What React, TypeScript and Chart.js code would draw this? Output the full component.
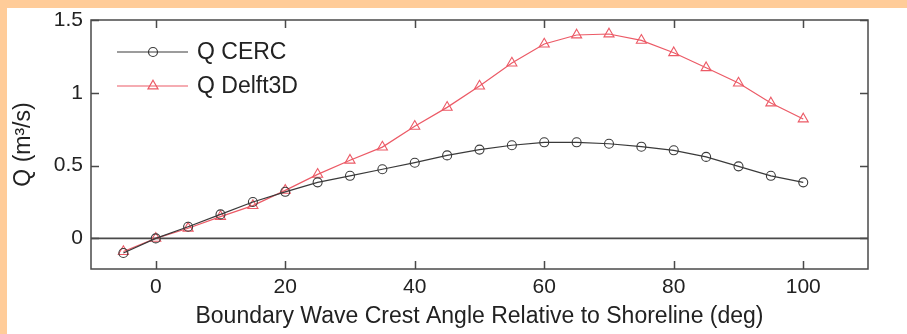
import { useEffect, useRef } from 'react';
import { Chart, registerables } from 'chart.js';

Chart.register(...registerables);

const angles = [-5, 0, 5, 10, 15, 20, 25, 30, 35, 40, 45, 50, 55, 60, 65, 70, 75, 80, 85, 90, 95, 100];
const qCerc = [-0.1, 0, 0.08, 0.165, 0.25, 0.32, 0.385, 0.43, 0.475, 0.52, 0.57, 0.61, 0.64, 0.66, 0.66, 0.65, 0.63, 0.605, 0.56, 0.495, 0.43, 0.385];
const qDelft = [-0.09, 0, 0.07, 0.15, 0.225, 0.33, 0.44, 0.537, 0.627, 0.77, 0.9, 1.046, 1.204, 1.335, 1.397, 1.404, 1.36, 1.275, 1.172, 1.067, 0.93, 0.82];
const seriesLabels = ['Q CERC', 'Q Delft3D'];
const xTicks = [0, 20, 40, 60, 80, 100];
const yTicks = [0, 0.5, 1, 1.5];
const xTitle = 'Boundary Wave Crest Angle Relative to Shoreline (deg)';
const yTitle = 'Q (m³/s)';

const FONT = "'Liberation Sans', Arial, sans-serif";
const CERC_COLOR = '#3a3a3a';
const DELFT_COLOR = '#ec5a66';
const AXIS_COLOR = '#4a4a4a';
const TEXT_COLOR = '#222';

function drawMarker(ctx: CanvasRenderingContext2D, style: string, x: number, y: number, r: number) {
  ctx.beginPath();
  if (style === 'circle') {
    ctx.arc(x, y, r, 0, Math.PI * 2);
  } else {
    const h = r;
    ctx.moveTo(x, y - h);
    ctx.lineTo(x + Math.sin((2 * Math.PI) / 3) * h, y - Math.cos((2 * Math.PI) / 3) * h);
    ctx.lineTo(x + Math.sin((4 * Math.PI) / 3) * h, y - Math.cos((4 * Math.PI) / 3) * h);
    ctx.closePath();
  }
  ctx.stroke();
}

const framePlugin = {
  id: 'matlabFrame',
  beforeDatasetsDraw(chart: any) {
    const { ctx, chartArea, scales } = chart;
    const y0 = scales.y.getPixelForValue(0);
    ctx.save();
    ctx.strokeStyle = AXIS_COLOR;
    ctx.lineWidth = 1.8;
    ctx.beginPath();
    ctx.moveTo(chartArea.left, y0);
    ctx.lineTo(chartArea.right, y0);
    ctx.stroke();
    ctx.restore();
  },
  afterDraw(chart: any) {
    const { ctx, chartArea, scales } = chart;
    const { left, right, top, bottom } = chartArea;
    const tl = 8;
    ctx.save();
    ctx.strokeStyle = AXIS_COLOR;
    ctx.lineWidth = 1.5;
    ctx.beginPath();
    xTicks.forEach((v) => {
      const px = Math.round(scales.x.getPixelForValue(v)) + 0.5;
      ctx.moveTo(px, bottom);
      ctx.lineTo(px, bottom - tl);
      ctx.moveTo(px, top);
      ctx.lineTo(px, top + tl);
    });
    yTicks.forEach((v) => {
      const py = Math.round(scales.y.getPixelForValue(v)) + 0.5;
      ctx.moveTo(left, py);
      ctx.lineTo(left + tl, py);
      ctx.moveTo(right, py);
      ctx.lineTo(right - tl, py);
    });
    ctx.stroke();
    ctx.strokeRect(left, top, right - left, bottom - top);

    // legend
    chart.data.datasets.forEach((ds: any, i: number) => {
      const ly = top + 32 + i * 34;
      ctx.strokeStyle = ds.borderColor;
      ctx.lineWidth = 1.2;
      ctx.beginPath();
      ctx.moveTo(left + 26, ly);
      ctx.lineTo(left + 97, ly);
      ctx.stroke();
      drawMarker(ctx, ds.pointStyle, left + 62, ly, ds.pointRadius);
      ctx.fillStyle = TEXT_COLOR;
      ctx.font = `23px ${FONT}`;
      ctx.textBaseline = 'middle';
      ctx.textAlign = 'left';
      ctx.fillText(ds.label, left + 106, ly + 1);
    });
    ctx.restore();
  },
};

export default function App() {
  const ref = useRef<HTMLCanvasElement | null>(null);

  useEffect(() => {
    if (!ref.current) return;
    const chart = new Chart(ref.current, {
      type: 'line',
      data: {
        datasets: [
          {
            label: seriesLabels[0],
            data: angles.map((a, i) => ({ x: a, y: qCerc[i] })),
            borderColor: CERC_COLOR,
            backgroundColor: 'transparent',
            borderWidth: 1.2,
            pointStyle: 'circle',
            pointRadius: 4.5,
            pointBorderWidth: 1.1,
            pointBorderColor: CERC_COLOR,
            pointBackgroundColor: 'transparent',
            tension: 0,
          },
          {
            label: seriesLabels[1],
            data: angles.map((a, i) => ({ x: a, y: qDelft[i] })),
            borderColor: DELFT_COLOR,
            backgroundColor: 'transparent',
            borderWidth: 1.2,
            pointStyle: 'triangle',
            pointRadius: 5.8,
            pointBorderWidth: 1.1,
            pointBorderColor: DELFT_COLOR,
            pointBackgroundColor: 'transparent',
            tension: 0,
          },
        ],
      },
      options: {
        animation: false,
        responsive: false,
        devicePixelRatio: 1,
        layout: { padding: { left: 0, right: 39, top: 12, bottom: 0 } },
        plugins: { legend: { display: false }, tooltip: { enabled: false } },
        scales: {
          x: {
            type: 'linear',
            min: -10,
            max: 110,
            afterBuildTicks: (s: any) => {
              s.ticks = xTicks.map((v) => ({ value: v }));
            },
            afterFit: (s: any) => {
              s.height = 65;
              s.paddingLeft = 0;
              s.paddingRight = 0;
            },
            grid: { display: false, drawTicks: false },
            border: { display: false },
            ticks: {
              color: TEXT_COLOR,
              font: { family: FONT, size: 21 },
              padding: 6,
              maxRotation: 0,
              autoSkip: false,
              callback: (v: any) => String(v),
            },
            title: {
              display: true,
              text: xTitle,
              color: TEXT_COLOR,
              font: { family: FONT, size: 23 },
              padding: { top: 0, bottom: 4 },
            },
          },
          y: {
            type: 'linear',
            min: -0.21,
            max: 1.5,
            afterBuildTicks: (s: any) => {
              s.ticks = yTicks.map((v) => ({ value: v }));
            },
            afterFit: (s: any) => {
              s.width = 84;
              s.paddingTop = 0;
              s.paddingBottom = 0;
            },
            grid: { display: false, drawTicks: false },
            border: { display: false },
            ticks: {
              color: TEXT_COLOR,
              font: { family: FONT, size: 21 },
              padding: 8,
              autoSkip: false,
              callback: (v: any) => String(v),
            },
            title: {
              display: true,
              text: yTitle,
              color: TEXT_COLOR,
              font: { family: FONT, size: 23 },
              padding: { top: 3, bottom: 0 },
            },
          },
        },
      },
      plugins: [framePlugin],
    });
    return () => chart.destroy();
  }, []);

  return (
    <div style={{ position: 'fixed', left: 0, top: 0, width: 907, height: 334, background: '#FFCC99' }}>
      <div style={{ position: 'absolute', left: 7, top: 8, width: 900, height: 326, background: '#ffffff' }}>
        <canvas ref={ref} width={900} height={326} style={{ display: 'block', width: 900, height: 326 }} />
      </div>
    </div>
  );
}
